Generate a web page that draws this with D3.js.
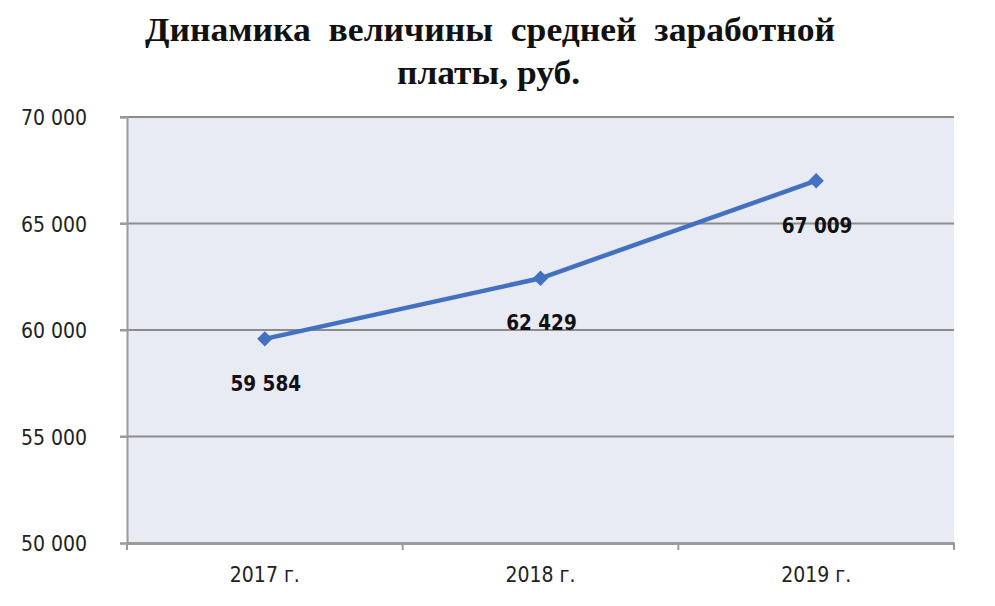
<!DOCTYPE html>
<html><head><meta charset="utf-8">
<script src="https://cdn.jsdelivr.net/npm/d3@7"></script>
<style>body{margin:0;background:#fff}</style>
</head><body>
<script>
const categories = ["2017 г.", "2018 г.", "2019 г."];
const values = [59584, 62429, 67009];
const dataLabels = ["59 584", "62 429", "67 009"];
const yTicks = [50000, 55000, 60000, 65000, 70000];
const titleLines = ["Динамика  величины  средней  заработной", "платы, руб."];

const W = 995, H = 606;
const margin = {left: 127, right: 41, top: 117, bottom: 63};
const svg = d3.select("body").append("svg").attr("width", W).attr("height", H);

const x = d3.scaleBand().domain(categories).range([margin.left, W - margin.right]);
const y = d3.scaleLinear().domain([50000, 70000]).range([H - margin.bottom, margin.top]);

svg.append("rect").attr("x", margin.left).attr("y", margin.top)
  .attr("width", W - margin.left - margin.right).attr("height", H - margin.top - margin.bottom)
  .attr("fill", "#e8ebf3");

// gridlines
svg.append("g").selectAll("line").data(yTicks.slice(1)).join("line")
  .attr("x1", margin.left - 7).attr("x2", W - margin.right)
  .attr("y1", d => y(d)).attr("y2", d => y(d))
  .attr("stroke", "#8c8c8c").attr("stroke-width", 2);

const font = "DejaVu Sans Condensed, DejaVu Sans";
// y axis
const fmt = d => d3.format(",")(d).replace(/,/g, " ");
const yAxis = svg.append("g").attr("transform", `translate(${margin.left},0)`)
  .call(d3.axisLeft(y).tickValues(yTicks).tickFormat(fmt).tickSize(7).tickPadding(33));
yAxis.select(".domain").attr("stroke", "#9a9a9a").attr("stroke-width", 2);
yAxis.selectAll(".tick line").attr("stroke", "#9a9a9a").attr("stroke-width", 2);
yAxis.selectAll("text").attr("font-family", font).attr("font-size", 21).attr("fill", "#222")
  .attr("dy", "0.36em");

// x axis
const xAxis = svg.append("g").attr("transform", `translate(0,${H - margin.bottom})`)
  .call(d3.axisBottom(x).tickSize(0).tickPadding(24));
xAxis.select(".domain").attr("stroke", "#9a9a9a").attr("stroke-width", 3);
xAxis.selectAll("text").attr("font-family", font).attr("font-size", 21).attr("fill", "#222");
const bounds = categories.map(c => x(c)).concat([W - margin.right]);
xAxis.append("g").selectAll("line").data(bounds).join("line")
  .attr("x1", d => d).attr("x2", d => d).attr("y1", 0).attr("y2", 7)
  .attr("stroke", "#9a9a9a").attr("stroke-width", 2);

// line
const cx = (d, i) => x(categories[i]) + x.bandwidth() / 2;
const line = d3.line().x((d, i) => cx(d, i)).y(d => y(d));
svg.append("path").datum(values).attr("d", line)
  .attr("fill", "none").attr("stroke", "#4470c0").attr("stroke-width", 4.5);
svg.append("g").selectAll("path").data(values).join("path")
  .attr("d", d3.symbol(d3.symbolDiamond2, 150))
  .attr("transform", (d, i) => `translate(${cx(d, i)},${y(d)})`)
  .attr("fill", "#4470c0");

// data labels
svg.append("g").selectAll("text").data(values).join("text")
  .attr("x", (d, i) => cx(d, i) + 1).attr("y", d => y(d) + 52)
  .attr("text-anchor", "middle").attr("font-family", font).attr("font-weight", "bold")
  .attr("font-size", 20.5).attr("fill", "#111")
  .text((d, i) => dataLabels[i]);

// title
const titleWidths = [690, 183];
svg.append("g").selectAll("text").data(titleLines).join("text")
  .attr("x", (d, i) => i ? 488.5 : 490).attr("y", (d, i) => i ? 84 : 41)
  .attr("text-anchor", "middle").attr("font-family", "Liberation Serif").attr("font-weight", "bold")
  .attr("font-size", 33).attr("fill", "#111").style("white-space", "pre")
  .attr("textLength", (d, i) => titleWidths[i]).attr("lengthAdjust", "spacingAndGlyphs")
  .text(d => d);
</script>
</body></html>
